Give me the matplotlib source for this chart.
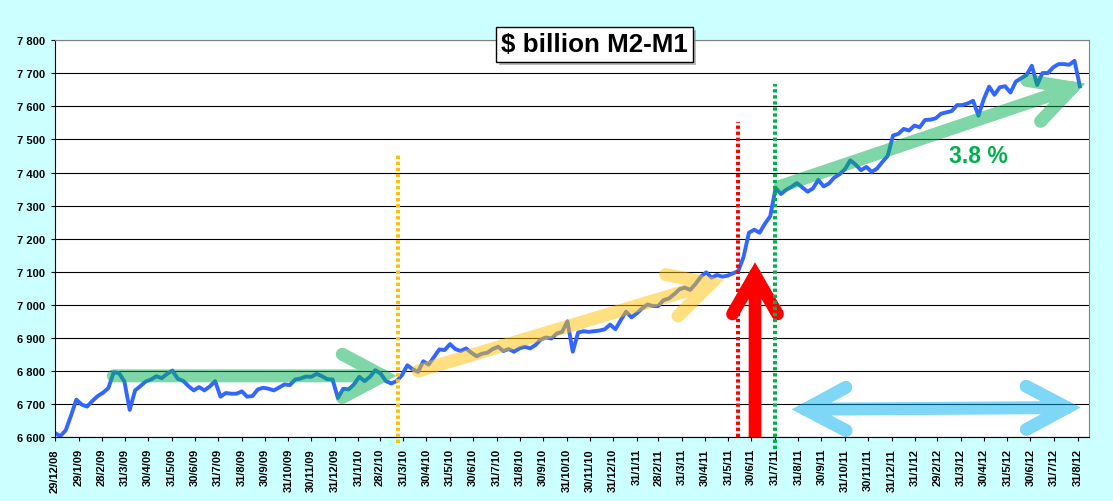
import numpy as np
import pandas as pd
import matplotlib
matplotlib.use('Agg')
import matplotlib.pyplot as plt
import matplotlib.dates as mdates
from matplotlib.path import Path
from matplotlib.patches import PathPatch, Rectangle
from matplotlib.ticker import FuncFormatter

# ---------------- data: weekly M2 minus M1, $ billion ----------------
first_week = '2008-12-29'
m2_m1 = [
    6612, 6603, 6620, 6665, 6713, 6698, 6692, 6709, 6724, 6734,
    6748, 6796, 6793, 6768, 6682, 6741, 6754, 6768, 6774, 6784,
    6778, 6791, 6801, 6776, 6770, 6754, 6741, 6751, 6741, 6753,
    6769, 6722, 6733, 6731, 6731, 6738, 6722, 6724, 6744, 6749,
    6746, 6741, 6750, 6759, 6757, 6774, 6777, 6783, 6782, 6791,
    6784, 6775, 6774, 6718, 6746, 6744, 6759, 6782, 6769, 6782,
    6802, 6792, 6769, 6762, 6769, 6787, 6817, 6805, 6797, 6829,
    6819, 6842, 6865, 6863, 6881, 6866, 6860, 6868, 6855, 6844,
    6852, 6855, 6866, 6873, 6860, 6866, 6858, 6868, 6873, 6868,
    6878, 6895, 6901, 6898, 6913, 6918, 6950, 6858, 6916, 6920,
    6918, 6920, 6922, 6926, 6940, 6926, 6954, 6979, 6962, 6974,
    6989, 7001, 6996, 6996, 7014, 7019, 7032, 7047, 7052, 7045,
    7063, 7085, 7098, 7082, 7090, 7085, 7088, 7095, 7102, 7145,
    7218, 7227, 7218, 7245, 7268, 7353, 7335, 7348, 7357, 7368,
    7355, 7342, 7352, 7378, 7358, 7367, 7385, 7395, 7410, 7437,
    7424, 7407, 7417, 7402, 7412, 7432, 7450, 7512, 7517, 7532,
    7527, 7542, 7537, 7559, 7560, 7564, 7578, 7582, 7586, 7604,
    7604, 7609, 7617, 7572, 7622, 7660, 7635, 7658, 7661, 7642,
    7675, 7685, 7695, 7723, 7665, 7701, 7701, 7718, 7728, 7728,
    7726, 7738, 7661,
]
weeks = pd.date_range(first_week, periods=len(m2_m1), freq='7D')

tick_labels = [
    '29/12/08', '29/1/09', '28/2/09', '31/3/09', '30/4/09', '31/5/09',
    '30/6/09', '31/7/09', '31/8/09', '30/9/09', '31/10/09', '30/11/09',
    '31/12/09', '31/1/10', '28/2/10', '31/3/10', '30/4/10', '31/5/10',
    '30/6/10', '31/7/10', '31/8/10', '30/9/10', '31/10/10', '30/11/10',
    '31/12/10', '31/1/11', '28/2/11', '31/3/11', '30/4/11', '31/5/11',
    '30/6/11', '31/7/11', '31/8/11', '30/9/11', '31/10/11', '30/11/11',
    '31/12/11', '31/1/12', '29/2/12', '31/3/12', '30/4/12', '31/5/12',
    '30/6/12', '31/7/12', '31/8/12',
]
tick_dates = pd.to_datetime(tick_labels, format='%d/%m/%y')
y_ticks = list(range(6600, 7801, 100))

# annotations (date, value)
flat_arrow = [('2009-03-07', 6785), ('2010-03-04', 6785)]
rise_arrow = [('2010-04-11', 6794), ('2011-05-08', 7064)]
trend_arrow = [('2011-07-30', 7352), ('2012-08-24', 7656)]
span_arrow = [('2011-09-09', 6684), ('2012-08-17', 6689)]
jump_arrow = [('2011-07-05', 6600), ('2011-07-05', 7090)]
markers = [('2010-03-24', 6583, 7456, '#FFC000'),
           ('2011-06-13', 6600, 7553, '#FF0000'),
           ('2011-07-31', 6565, 7668, '#00B050')]
trend_label = ('2012-04-23', 7453, '3.8 %')

# ---------------- figure ----------------
plt.rcParams['font.family'] = ['Liberation Sans', 'DejaVu Sans']
plt.rcParams['font.weight'] = 'bold'

W, H = 1113, 502
fig = plt.figure(figsize=(W / 100, H / 100), dpi=100, facecolor='#CCFFFF')
ax = fig.add_axes([55 / W, 1 - 438 / H, (1089 - 55) / W, (438 - 41.3) / H])
ax.set_facecolor('white')

ax.plot(weeks, m2_m1, color='#3366FF', lw=2.8, zorder=2, solid_joinstyle='round')

ax.set_xlim(pd.Timestamp('2008-12-29'), pd.Timestamp('2012-09-15'))
ax.set_ylim(6600, 7800)
ax.set_yticks(y_ticks)
ax.yaxis.set_major_formatter(FuncFormatter(lambda v, p: f'{v:,.0f}'.replace(',', ' ')))
ax.set_xticks(tick_dates)
ax.set_xticklabels(tick_labels, rotation=90)
ax.grid(axis='y', color='black', lw=0.8, zorder=0.5)
ax.set_axisbelow(True)
ax.tick_params(axis='x', length=3, width=0.8, pad=5, labelsize=8)
ax.tick_params(axis='y', length=3, width=0.8, pad=4, labelsize=8)
for side in ('top', 'right'):
    ax.spines[side].set_color('#808080')
    ax.spines[side].set_linewidth(0.8)
for side in ('left', 'bottom'):
    ax.spines[side].set_color('black')
    ax.spines[side].set_linewidth(0.8)


def to_xy(p):
    return mdates.date2num(pd.Timestamp(p[0])), p[1]


def open_arrow(ax, p0, p1, color, alpha=0.5, width_px=13, head_px=46,
               angle=28, both=False, shift_start=True, zorder=3):
    """Thick line with open (chevron) heads, stroked as one path."""
    a = ax.transData.transform(to_xy(p0))
    b = ax.transData.transform(to_xy(p1))
    u = (b - a) / np.linalg.norm(b - a)

    def chevron(tip, d):
        out = []
        for s in (1, -1):
            th = np.radians(angle * s)
            r = np.array([-d[0] * np.cos(th) + d[1] * np.sin(th),
                          -d[0] * np.sin(th) - d[1] * np.cos(th)])
            out.append(tip + head_px * r)
        return out

    if shift_start and not both:
        a = a + u * width_px / 2
    verts = [a, b]
    codes = [Path.MOVETO, Path.LINETO]
    e1, e2 = chevron(b, u)
    verts += [e1, b, e2]
    codes += [Path.MOVETO, Path.LINETO, Path.LINETO]
    if both:
        s1, s2 = chevron(a, -u)
        verts += [s1, a, s2]
        codes += [Path.MOVETO, Path.LINETO, Path.LINETO]
    verts = ax.transData.inverted().transform(np.array(verts))
    patch = PathPatch(Path(verts, codes), fill=False, edgecolor=color,
                      lw=width_px * 0.72, alpha=alpha, zorder=zorder)
    patch.set_capstyle('round')
    patch.set_joinstyle('miter')
    ax.add_patch(patch)


open_arrow(ax, *flat_arrow, color='#00B050')
open_arrow(ax, *rise_arrow, color='#FFC000')
open_arrow(ax, *trend_arrow, color='#00B050')
open_arrow(ax, *span_arrow, color='#00B0F0', both=True)
open_arrow(ax, *jump_arrow, color='#FF0000', alpha=1.0, width_px=12.7,
           head_px=45, angle=30, shift_start=False)

for d, lo, hi, c in markers:
    x = mdates.date2num(pd.Timestamp(d))
    ax.plot([x, x], [lo, hi], color=c, lw=2.9, linestyle=(0, (0.83, 0.67)),
            dash_capstyle='butt', clip_on=False, zorder=4)

ax.text(pd.Timestamp(trend_label[0]), trend_label[1], trend_label[2],
        color='#00B050', fontsize=16.5, ha='center', va='center', zorder=5)

# title box with shadow
bx0, by0, bx1, by1 = 495.7, 28.3, 693.3, 62.7
fig.add_artist(Rectangle((bx0 / W + 3 / W, 1 - (by1 + 3) / H), (bx1 - bx0) / W,
                         (by1 - by0) / H, transform=fig.transFigure,
                         facecolor='#909090', edgecolor='none', alpha=0.6))
fig.add_artist(Rectangle((bx0 / W, 1 - by1 / H), (bx1 - bx0) / W, (by1 - by0) / H,
                         transform=fig.transFigure, facecolor='white',
                         edgecolor='black', lw=1))
fig.text((bx0 + bx1) / 2 / W, 1 - (by0 + by1) / 2 / H, '$ billion M2-M1',
         ha='center', va='center', fontsize=18.7, color='black')

fig.savefig('out.png', dpi=100, facecolor=fig.get_facecolor())
